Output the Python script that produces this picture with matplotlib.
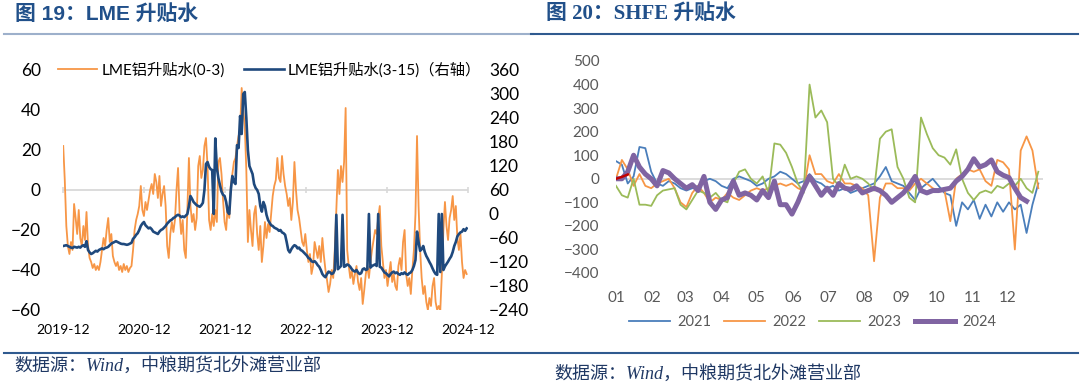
import numpy as np
import pandas as pd
import matplotlib
matplotlib.use("Agg")
import matplotlib.pyplot as plt
import matplotlib.dates as mdates
from matplotlib.lines import Line2D

plt.rcParams['font.family'] = ['Lato', 'Noto Sans CJK SC', 'DejaVu Sans']

# ---- LME data (weekly, 2019-12 .. 2024-11) ----
lme_dates = pd.date_range("2019-12-02", "2024-11-25", freq="W-MON")
lme_ticks = pd.date_range("2019-12-01", "2024-12-01", freq="12MS")

# 0-3 spread, left axis (one row ~ one quarter)
lme_0_3 = [22, 5, -18, -28, -32, -26, -30, -7, -14, -22, -10, -24, -28,
           -18, -25, -11, -28, -34, -36, -39, -37, -40, -38, -40, -36, -30,
           -24, -28, -20, -14, -26, -22, -33, -36, -38, -36, -40, -38, -41,
           -37, -40, -38, -41, -39, -38, -30, -20, -15, -12, -8, 2, -10,
           -13, -6, -10, -5, 0, 3, -2, 8, 4, -4, 7, -8, -2,
           2, -8, -28, -34, -22, -16, -21, -15, 0, 11, -12, -22, -15,
           -30, -34, -10, 16, -8, -16, -12, -20, -14, 12, 17, 6, 10,
           22, 26, 12, -15, -20, -12, -18, -10, -16, 14, 16, 8, -5,
           -16, -20, -8, -14, 2, 8, 14, 16, 22, 27, 30, 51, 40,
           32, 10, -26, -10, -20, -28, -12, -8, -22, -30, -18, -36, -28,
           -16, -24, -17, -21, -12, -3, 2, 5, 16, 6, 4, 17, 8,
           2, -2, -8, -4, -15, -6, 14, 0, -10, -14, -20, -26, -28,
           -22, -30, -36, -32, -42, -38, -26, -30, -34, -28, -36, -24, -33,
           -40, -45, -51, -47, -40, -44, -30, -10, 10, -2, 12, 4, 14,
           41, -30, -38, -44, -40, -47, -42, -38, -46, -50, -44, -57, -50,
           -42, -38, -44, -36, -30, -25, -20, -22, -14, -8, -28, -36, -44,
           -40, -48, -42, -36, -46, -42, -48, -50, -38, -34, -40, -26, -20,
           -42, -48, -44, -52, -40, -30, -12, 27, -8, -30, -44, -52, -48,
           -56, -60, -54, -58, -48, -44, -56, -60, -58, -60, -42, -20, -6,
           -18, -25, -14, -10, -3, -15, -8, -24, -30, -22, -36, -44, -40, -42]

# 3-15 spread, right axis
lme_3_15 = [-80, -79, -78, -80, -82, -84, -85, -82, -83, -84, -82, -84, -80,
            -78, -82, -68, -90, -96, -100, -98, -95, -92, -94, -90, -88, -86,
            -88, -85, -84, -82, -78, -74, -72, -70, -68, -70, -72, -74, -75,
            -75, -76, -77, -76, -74, -72, -62, -58, -52, -48, -40, -30, -24,
            -20, -28, -32, -36, -34, -38, -44, -46, -48, -50, -44, -40, -38,
            -34, -30, -24, -20, -16, -14, -10, -8, -4, -2, -4, -8, -6,
            -8, -4, 0, 20, 45, 38, 30, 26, 22, 20, 18, 22, 28,
            60, 125, 130, 118, 112, 110, 0, 189, 115, 90, 72, 56, 48,
            45, 30, 5, 0, 60, 95, 80, 75, 172, 165, 245, 200, 300,
            305, 240, 160, 120, 110, 100, 75, 65, 60, 50, 20, 6, 30,
            20, -2, -15, -22, -28, -30, -34, -36, -38, -42, -40, -46, -48,
            -52, -70, -90, -96, -88, -82, -78, -80, -86, -84, -90, -92, -96,
            -100, -104, -110, -112, -118, -120, -118, -122, -128, -132, -140, -150, -155,
            -158, -150, -144, -146, -150, -148, -140, -2, -138, -134, -130, -2, -132,
            -130, -126, -128, -132, -138, -142, -144, -140, -146, -150, -148, -138, -136,
            -140, -138, 0, -134, -130, -128, -126, -130, 0, -132, -134, -140, -146,
            -148, -152, -156, -150, -146, -144, -148, -146, -150, -152, -148, -150, -146,
            -150, -152, -148, -146, -140, -130, -115, -44, -70, -92, -88, -80, -95,
            -105, -112, -120, -127, -136, -144, -150, -152, 0, -145, 0, -140, -131,
            -125, -119, -112, -106, -95, -80, -70, -56, -50, -46, -44, -38, -42, -36]

# ---- SHFE data (every 5 days through one year) ----
shfe_dates = pd.date_range("2001-01-01", periods=73, freq="5D")
month_ticks = pd.date_range("2001-01-01", periods=12, freq="MS")

shfe_2021 = [75, 60, -20, 10, 135, 130, 30, -20, -30, -10,
             -20, -40, -50, -40, -30, -10, 0, -10, -30, -40,
             0, 10, 0, -10, -30, -20, 0, 10, 30, 20,
             0, -20, -10, 20, -10, -20, -40, -30, -50, -40,
             -60, -50, -40, -30, -20, 10, 50, -10, -20, -30,
             -60, -90, -40, -20, 0, -30, -60, -70, -200, -100,
             -130, -90, -170, -110, -160, -100, -140, -100, -130, -110,
             -230, -110, -20]
shfe_2022 = [0, 80, 40, -30, 20, -30, -40, -20, -10, 0,
             -40, -100, -120, -60, -30, -60, -100, -80, -90, -60,
             -80, -90, -70, -50, -40, -50, -40, -30, -20, -30,
             -20, -40, -50, 100, 20, 20, -10, -20, 20, -20,
             -20, -30, -40, -70, -350, -80, -20, -20, -40, -40,
             -50, -20, 0, -20, -40, -50, -50, -180, 0, 20,
             40, 30, 40, -10, -30, 80, 70, 40, -300, 120,
             180, 120, -40]
shfe_2023 = [-30, -70, -80, 0, -110, -110, -115, -70, -50, -45,
             -40, -110, -130, -90, -50, -60, -80, -60, -90, -100,
             -20, 30, 40, 0, -20, 10, -60, 150, 145, 110,
             50, -20, -60, 400, 260, 290, 240, 0, -30, 60,
             0, 10, 0, -20, -50, 170, 200, 210, 50, 0,
             -80, -100, 260, 190, 130, 100, 90, 60, 125, 0,
             -60, -90, -60, -50, -60, -30, -40, -20, -30, 0,
             -40, -60, 30]
shfe_2024 = [0, 0, 30, 100, 50, 20, 0, -30, 35, 25,
             0, -20, -40, -25, -50, 10, -100, -130, -90, -80,
             -10, -70, -60, -70, -90, -50, -80, -10, -110, -110,
             -150, -100, -40, 10, -30, -70, -40, -70, -20, -40,
             -45, -30, -60, -50, -40, -50, -70, -100, -80, -60,
             -30, 10, -50, -60, -50, -50, -45, -40, -10, 10,
             40, 85, 50, 60, 80, 30, 15, 5, -40, -80,
             -95, np.nan, np.nan]
shfe_2025 = [0, 8, 18]

TITLE_C = '#21508A'
LINE_C = '#2F5A8F'

fig = plt.figure(figsize=(10.8, 3.86), dpi=100)

# ---- LEFT: LME ----
ax = fig.add_axes([63 / 1080, 1 - 310 / 386, 405 / 1080, 240 / 386])
ax.axhline(0, color='#D9D9D9', lw=1.3, zorder=0)
l1, = ax.plot(lme_dates, lme_0_3, color='#F79646', lw=1.3, label='LME铝升贴水(0-3)')
ax.set_ylim(-60, 60)
ax.set_yticks(range(-60, 61, 20))
ax.set_xlim(pd.Timestamp("2019-12-01"), pd.Timestamp("2024-12-01"))
ax.set_xticks(lme_ticks)
ax.xaxis.set_major_formatter(mdates.DateFormatter('%Y-%m'))
ax.tick_params(axis='x', length=0, pad=10, labelsize=10)
ax.tick_params(axis='y', length=0, pad=16, labelsize=12.5)
for s in ax.spines.values():
    s.set_visible(False)

# small tick marks sitting on the zero line
sec = ax.secondary_xaxis(0.5)
sec.set_xticks(lme_ticks, labels=[''] * len(lme_ticks))
sec.tick_params(length=5, color='#D9D9D9', width=1.2, direction='inout')
for s in sec.spines.values():
    s.set_visible(False)

ax2 = ax.twinx()
l2, = ax2.plot(lme_dates, lme_3_15, color='#1F497D', lw=1.9, label='LME铝升贴水(3-15)（右轴）')
ax2.set_ylim(-240, 360)
ax2.set_yticks(range(-240, 361, 60))
ax2.tick_params(axis='y', length=0, pad=15, labelsize=12.5)
for s in ax2.spines.values():
    s.set_visible(False)
ax2.legend(handles=[l1, l2], loc='center', bbox_to_anchor=(0.51, 1.0), ncol=2,
           frameon=False, fontsize=11, handlelength=2.6, handletextpad=0.3,
           columnspacing=1.2)

# ---- RIGHT: SHFE ----
bx = fig.add_axes([616 / 1080, 1 - 273 / 386, 427 / 1080, 212 / 386])
bx.axhline(0, color='#D9D9D9', lw=1.3, zorder=0)
bx.plot(shfe_dates, shfe_2021, color='#4A7EBB', lw=1.3, label='2021')
bx.plot(shfe_dates, shfe_2022, color='#F79646', lw=1.3, label='2022')
bx.plot(shfe_dates, shfe_2023, color='#9BBB59', lw=1.3, label='2023')
bx.plot(shfe_dates, shfe_2024, color='#8064A2', lw=3.6, label='2024')
bx.plot(shfe_dates[:len(shfe_2025)], shfe_2025, color='#C00000', lw=1.8)
bx.set_ylim(-400, 500)
bx.set_yticks(range(-400, 501, 100))
bx.set_xlim(pd.Timestamp("2001-01-01"), pd.Timestamp("2001-12-31"))
bx.set_xticks(month_ticks)
bx.xaxis.set_major_formatter(mdates.DateFormatter('%m'))
bx.tick_params(length=0, labelsize=11, labelcolor='#595959')
bx.tick_params(axis='x', pad=13)
bx.tick_params(axis='y', pad=12)
for s in bx.spines.values():
    s.set_visible(False)
bx.legend(loc='center', bbox_to_anchor=(0.461, -0.231), ncol=4, frameon=False,
          fontsize=10.5, labelcolor='#595959', handlelength=2.8, handletextpad=0.5,
          columnspacing=0.9)

# ---- titles, rules, sources ----
fig.text(15 / 1080, 1 - 14 / 386, '图 19：LME 升贴水', color=TITLE_C, fontsize=15,
         fontweight='bold', va='center', family=['Liberation Sans', 'Noto Sans CJK SC'])
fig.text(546 / 1080, 1 - 14 / 386, '图 20：SHFE 升贴水', color=TITLE_C, fontsize=15,
         fontweight='bold', va='center', family=['Liberation Serif', 'Noto Sans CJK SC'])

fig.add_artist(Line2D([4 / 1080, 533 / 1080], [1 - 33.5 / 386] * 2, color='#9DB0CB', lw=1.5))
fig.add_artist(Line2D([531 / 1080, 1078 / 1080], [1 - 33.5 / 386] * 2, color=LINE_C, lw=1.5))
fig.add_artist(Line2D([4 / 1080, 1078 / 1080], [1 - 353 / 386] * 2, color=LINE_C, lw=1.5))

src = '数据源：Wind，中粮期货北外滩营业部'
fig.text(14 / 1080, 1 - 366 / 386, src, color='#1F3864', fontsize=13, style='italic',
         va='center', family=['Liberation Serif', 'Noto Sans CJK SC'])
fig.text(554 / 1080, 1 - 374 / 386, src, color='#1F3864', fontsize=13, style='italic',
         va='center', family=['Liberation Serif', 'Noto Sans CJK SC'])

fig.savefig('out.png', dpi=100)
